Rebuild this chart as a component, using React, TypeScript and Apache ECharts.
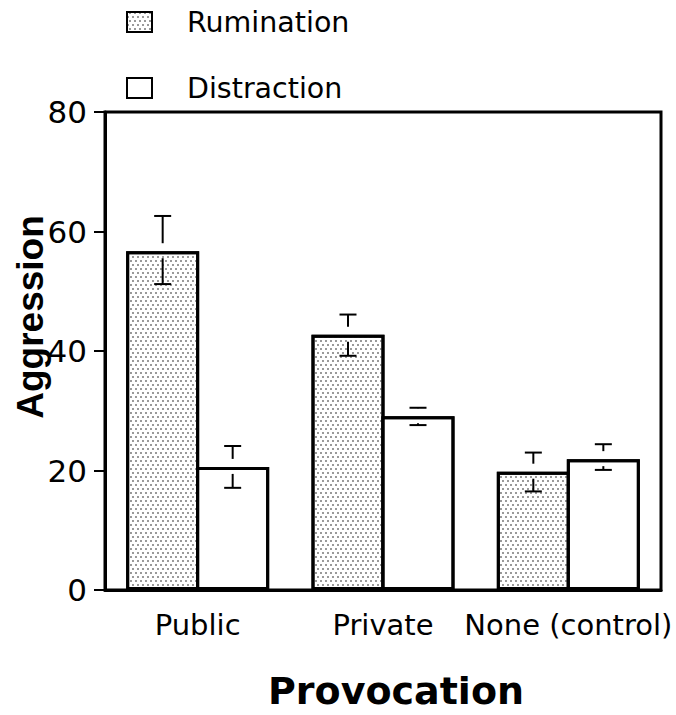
import React, { useEffect, useRef } from "react";
import * as echarts from "echarts";

const categories = ["Public", "Private", "None (control)"];
const seriesNames = ["Rumination", "Distraction"];
const rumination = [56.7, 42.7, 19.8];
const distraction = [20.6, 29.1, 21.9];
const ruminationUpper = [62.6, 46.1, 23.0];
const ruminationLower = [51.2, 39.2, 16.5];
const distractionUpper = [24.1, 30.5, 24.4];
const distractionLower = [17.1, 27.6, 20.1];
const yTicks = [0, 20, 40, 60, 80];

const BAR_W = 73;
const BORDER = 3;
const BAR_OFF = (BAR_W - BORDER) / 2;
const FONT = "DejaVu Sans";

export default function App() {
  const ref = useRef<HTMLDivElement>(null);
  useEffect(() => {
    document.body.style.margin = "0";
    const chart = echarts.init(ref.current!, null, { renderer: "svg" });

    const errData: any[] = [];
    categories.forEach((_, i) => {
      errData.push([i, rumination[i], ruminationLower[i], ruminationUpper[i], -1]);
      errData.push([i, distraction[i], distractionLower[i], distractionUpper[i], 1]);
    });

    const option: any = {
      animation: false,
      aria: { enabled: true, decal: { show: true } },
      grid: {
        left: 105,
        right: 15,
        top: 112,
        bottom: 125,
        containLabel: false,
        outerBoundsMode: "none",
        show: true,
        borderColor: "#000",
        borderWidth: 3,
        backgroundColor: "transparent",
      },
      legend: {
        data: seriesNames,
        orient: "vertical",
        left: 121,
        top: 2,
        icon: "rect",
        itemWidth: 25,
        itemHeight: 20,
        itemGap: 36,
        textStyle: {
          fontFamily: FONT,
          fontSize: 28.5,
          color: "#000",
          lineHeight: 30,
          padding: [0, 0, 0, 30],
        },
      },
      xAxis: {
        type: "category",
        data: categories,
        axisLine: { lineStyle: { color: "#000", width: 3 } },
        axisTick: { alignWithLabel: true, length: 10, lineStyle: { color: "#000", width: 2 } },
        axisLabel: { interval: 0, fontFamily: FONT, fontSize: 29, color: "#000", margin: 20 },
        name: "Provocation",
        nameLocation: "middle",
        nameGap: 82,
        nameMoveOverlap: false,
        nameTextStyle: {
          fontFamily: FONT,
          fontSize: 38,
          fontWeight: "bold",
          color: "#000",
          padding: [0, 0, 0, 26],
        },
      },
      yAxis: {
        type: "value",
        min: yTicks[0],
        max: yTicks[yTicks.length - 1],
        interval: 20,
        axisLine: { show: true, lineStyle: { color: "#000", width: 3 } },
        axisTick: { show: true, length: 11, lineStyle: { color: "#000", width: 2 } },
        axisLabel: { fontFamily: FONT, fontSize: 31, color: "#000", margin: 18 },
        splitLine: { show: false },
        name: "Aggression",
        nameLocation: "middle",
        nameGap: 56,
        nameMoveOverlap: false,
        nameTextStyle: {
          fontFamily: "Liberation Sans",
          fontSize: 37,
          fontWeight: "bold",
          color: "#000",
          padding: [0, 0, 0, 68],
        },
      },
      series: [
        {
          name: seriesNames[0],
          type: "bar",
          data: rumination,
          barWidth: BAR_W,
          barGap: "-4.1%",
          itemStyle: {
            color: "#fff",
            borderColor: "#000",
            borderWidth: BORDER,
            decal: {
              symbol: "rect",
              symbolSize: 0.8,
              color: "#555",
              backgroundColor: "#fff",
              dashArrayX: [[1.5, 2.5], [0, 2, 1.5, 0.5]],
              dashArrayY: [1.5, 1.5],
              rotation: 0,
            },
          },
        },
        {
          name: seriesNames[1],
          type: "bar",
          data: distraction,
          barWidth: BAR_W,
          barGap: "-4.1%",
          itemStyle: {
            color: "#fff",
            borderColor: "#000",
            borderWidth: BORDER,
            decal: { symbol: "none" },
          },
        },
        {
          type: "custom",
          data: errData,
          z: 10,
          silent: true,
          renderItem: (params: any, api: any) => {
            const i = api.value(0);
            const mean = api.value(1);
            const lo = api.value(2);
            const hi = api.value(3);
            const side = api.value(4);
            const x = api.coord([i, mean])[0] + side * BAR_OFF;
            const yTop = api.coord([i, mean])[1];
            const yHi = api.coord([i, hi])[1];
            const yLo = api.coord([i, lo])[1];
            const half = 8.5;
            const style = { stroke: "#000", lineWidth: 2 };
            const children: any[] = [
              { type: "line", shape: { x1: x - half, y1: yHi, x2: x + half, y2: yHi }, style },
              { type: "line", shape: { x1: x - half, y1: yLo, x2: x + half, y2: yLo }, style },
            ];
            if (yHi < yTop - 8) {
              children.push({ type: "line", shape: { x1: x, y1: yHi, x2: x, y2: yTop - 8 }, style });
            }
            if (yLo > yTop + 7) {
              children.push({ type: "line", shape: { x1: x, y1: yTop + 7, x2: x, y2: yLo }, style });
            }
            return { type: "group", children };
          },
        },
      ],
    };
    chart.setOption(option);
    return () => chart.dispose();
  }, []);
  return <div ref={ref} style={{ width: 676, height: 715 }} />;
}
